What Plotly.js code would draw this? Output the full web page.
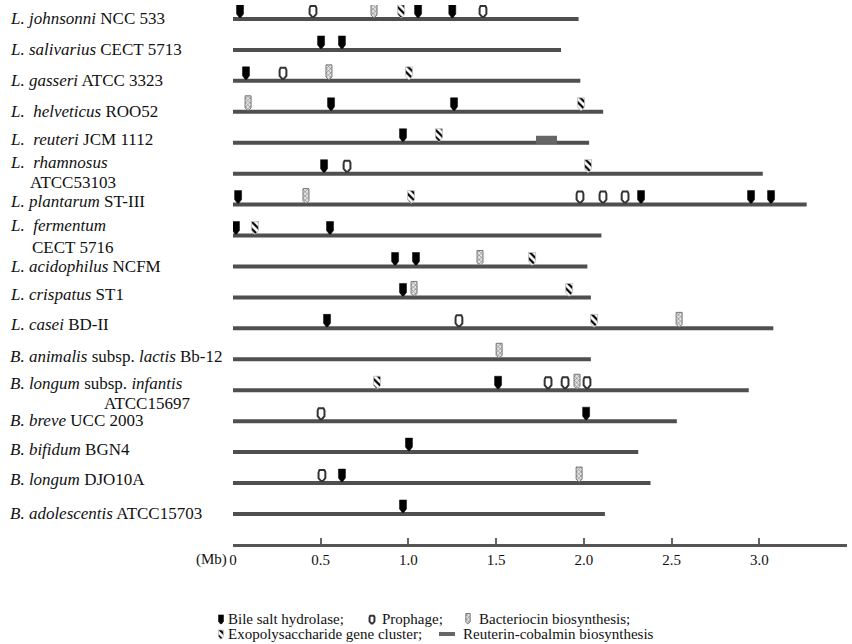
<!DOCTYPE html>
<html><head><meta charset="utf-8">
<script src="https://cdn.plot.ly/plotly-3.0.1.min.js"></script>
<style>html,body{margin:0;padding:0;background:#fff}#chart{width:852px;height:644px}</style>
</head><body><div id="chart"></div>
<script>
// ---------------- DATA ----------------
const strainLabels = [
  '<i>L. johnsonni</i> NCC 533',
  '<i>L. salivarius</i> CECT 5713',
  '<i>L. gasseri</i> ATCC 3323',
  '<i>L.  helveticus</i> ROO52',
  '<i>L.  reuteri</i> JCM 1112',
  '<i>L.  rhamnosus</i>',
  '<i>L. plantarum</i> ST-III',
  '<i>L.  fermentum</i>',
  '<i>L. acidophilus</i> NCFM',
  '<i>L. crispatus</i> ST1',
  '<i>L. casei</i> BD-II',
  '<i>B. animalis</i> subsp. <i>lactis</i> Bb-12',
  '<i>B. longum</i> subsp. <i>infantis</i>',
  '<i>B. breve</i> UCC 2003',
  '<i>B. bifidum</i> BGN4',
  '<i>B. longum</i> DJO10A',
  '<i>B. adolescentis</i> ATCC15703'
];
const strainLabels2 = ['', '', '', '', '', 'ATCC53103', '', 'CECT 5716', '', '', '', '', 'ATCC15697', '', '', '', ''];
const genomeMb = [1.97, 1.87, 1.98, 2.11, 2.03, 3.02, 3.27, 2.10, 2.02, 2.04, 3.08, 2.04, 2.94, 2.53, 2.31, 2.38, 2.12];

// Bile salt hydrolase
const bshRow = [0, 0, 0, 1, 1, 2, 3, 3, 4, 5, 6, 6, 6, 6, 7, 7, 8, 8, 9, 10, 12, 13, 14, 15, 16];
const bshMb  = [0.04, 1.055, 1.25, 0.502, 0.621, 0.074, 0.559, 1.26, 0.969, 0.519, 0.029, 2.326, 2.953, 3.067, 0.017, 0.553, 0.924, 1.043, 0.969, 0.536, 1.511, 2.013, 1.003, 0.621, 0.969];
// Prophage
const proRow = [0, 0, 2, 5, 6, 6, 6, 10, 12, 12, 12, 13, 15];
const proMb  = [0.456, 1.425, 0.285, 0.650, 1.978, 2.109, 2.235, 1.288, 1.796, 1.893, 2.018, 0.502, 0.507];
// Bacteriocin biosynthesis
const bacRow = [0, 2, 3, 6, 8, 9, 10, 11, 12, 15];
const bacMb  = [0.804, 0.547, 0.086, 0.416, 1.408, 1.032, 2.543, 1.517, 1.961, 1.973];
// Exopolysaccharide gene cluster
const epsRow = [0, 2, 3, 4, 5, 6, 7, 8, 9, 10, 12];
const epsMb  = [0.958, 1.003, 1.984, 1.174, 2.024, 1.015, 0.125, 1.705, 1.916, 2.058, 0.821];
// Reuterin-cobalmin biosynthesis (start, end)
const reuRow = [4];
const reuStart = [1.727];
const reuEnd = [1.847];

const tickVals = [0, 0.5, 1.0, 1.5, 2.0, 2.5, 3.0, 3.5];
const tickText = ['0', '0.5', '1.0', '1.5', '2.0', '2.5', '3.0', '3.5'];
const legendText = ['Bile salt hydrolase;', 'Prophage;', 'Bacteriocin biosynthesis;', 'Exopolysaccharide gene cluster;', 'Reuterin-cobalmin biosynthesis'];

// ---------------- LAYOUT GEOMETRY ----------------
const W = 852, H = 644;
const plotL = 233, plotR = 847, plotT = 5, plotB = 544;
const yTop = -0.4525, yBot = 16.97;
const DX = 3.5 / (plotR - plotL);
const DY = (yBot - yTop) / (plotB - plotT);
const SERIF = 'Liberation Serif';

// glyph outlines in pixel offsets from (marker x, line centre)
const G_BSH = [[-3.5,-14],[3.5,-14],[3.5,-5],[0.8,-1.5],[-0.8,-1.5],[-3.5,-5]];
const G_PRO = [[-3.4,-11],[-2.4,-13],[2.4,-13],[3.4,-11],[3.4,-5],[0.8,-2],[-0.8,-2],[-3.4,-5]];
const G_BAC = [[-3,-16],[3,-16],[3,-4],[0.6,-1.5],[-0.6,-1.5],[-3,-4]];
const G_EPS = [[-3.5,-14],[3.5,-14],[3.5,-5],[0.8,-1.5],[-0.8,-1.5],[-3.5,-5]];

const STY = {
  bsh: {fillcolor:'#000', line:{color:'#000', width:0.5}},
  pro: {fillcolor:'#fff', line:{color:'#333', width:2}},
  bac: {fillcolor:'#e4e4e4', fillpattern:{shape:'x', fgcolor:'#7a7a7a', bgcolor:'#e4e4e4', size:3, solidity:0.35}, line:{color:'#777', width:1}},
  eps: {fillcolor:'#fff', fillpattern:{shape:'\\', fgcolor:'#000', bgcolor:'#fff', size:5, solidity:0.45}, line:{color:'#bbb', width:0.8}}
};

function polys(cx, cy, pts, sx, sy) {
  const X = [], Y = [];
  for (let i = 0; i < cx.length; i++) {
    pts.forEach(p => { X.push(cx[i] + p[0]*sx); Y.push(cy[i] + p[1]*sy); });
    X.push(cx[i] + pts[0][0]*sx); Y.push(cy[i] + pts[0][1]*sy);
    X.push(null); Y.push(null);
  }
  return {X, Y};
}
function glyphTrace(cx, cy, pts, sty, sx, sy, xa, ya) {
  const p = polys(cx, cy, pts, sx, sy);
  return Object.assign({type:'scatter', mode:'lines', x:p.X, y:p.Y, fill:'toself',
    xaxis:xa, yaxis:ya, hoverinfo:'skip', showlegend:false}, sty);
}

const traces = [];
// genome lines
{
  const X = [], Y = [];
  genomeMb.forEach((L, r) => { X.push(-0.02, L, null); Y.push(r, r, null); });
  traces.push({type:'scatter', mode:'lines', x:X, y:Y, line:{color:'#4f4f4f', width:4}, hoverinfo:'skip', showlegend:false});
}
// reuterin bars
{
  const X = [], Y = [];
  reuRow.forEach((r, i) => {
    X.push(reuStart[i], reuEnd[i], reuEnd[i], reuStart[i], reuStart[i], null);
    Y.push(r - 7*DY, r - 7*DY, r + 1*DY, r + 1*DY, r - 7*DY, null);
  });
  traces.push({type:'scatter', mode:'lines', x:X, y:Y, fill:'toself', fillcolor:'#666', line:{color:'#666', width:0}, hoverinfo:'skip', showlegend:false});
}
traces.push(glyphTrace(bacMb, bacRow, G_BAC, STY.bac, DX, DY, 'x', 'y'));
traces.push(glyphTrace(epsMb, epsRow, G_EPS, STY.eps, DX, DY, 'x', 'y'));
traces.push(glyphTrace(proMb, proRow, G_PRO, STY.pro, DX, DY, 'x', 'y'));
traces.push(glyphTrace(bshMb, bshRow, G_BSH, STY.bsh, DX, DY, 'x', 'y'));

// legend glyphs on a pixel overlay axis
const lgY1 = 625, lgY2 = 640, lgS = 0.72;
const lgIcons = [
  {x:221, y:lgY1, g:G_BSH, s:STY.bsh},
  {x:372, y:lgY1, g:G_PRO, s:STY.pro},
  {x:468, y:lgY1, g:G_BAC, s:STY.bac},
  {x:221, y:lgY2, g:G_EPS, s:STY.eps}
];
lgIcons.forEach(ic => traces.push(glyphTrace([ic.x], [ic.y], ic.g, ic.s, lgS, lgS, 'x2', 'y2')));
traces.push({type:'scatter', mode:'lines', x:[439,439,455,455,439], y:[632,636,636,632,632], fill:'toself', fillcolor:'#666', line:{width:0, color:'#666'}, xaxis:'x2', yaxis:'y2', hoverinfo:'skip', showlegend:false});

// annotations
const ann = [];
const labelShift = {4:3, 6:3, 9:3, 10:4, 11:3, 13:1, 14:3, 15:4};
const twoLine = {5:{up:11, down:-9, x2:28}, 7:{up:10, down:-12, x2:30}, 12:{up:7, down:-13, x2:102}};
const LBL = 17;
strainLabels.forEach((t, r) => {
  const tl = twoLine[r];
  ann.push({xref:'paper', yref:'y', x:8/W, y:r, xanchor:'left', yanchor:'middle', showarrow:false,
    text:t, yshift: tl ? tl.up : (labelShift[r] || 0), font:{family:SERIF, size:LBL, color:'#111'}});
  if (strainLabels2[r]) {
    ann.push({xref:'paper', yref:'y', x:tl.x2/W, y:r, xanchor:'left', yanchor:'middle', showarrow:false,
      text:strainLabels2[r], yshift:tl.down, font:{family:SERIF, size:LBL, color:'#111'}});
  }
});
ann.push({xref:'paper', yref:'paper', x:229/W, y:1-559/H, xanchor:'right', yanchor:'middle', showarrow:false,
  text:'(Mb)', font:{family:SERIF, size:15, color:'#111'}});
const lgPos = [[226, 619], [380, 619], [477, 619], [226, 634], [461, 634]];
legendText.forEach((t, i) => ann.push({xref:'paper', yref:'paper', x:lgPos[i][0]/W, y:1-lgPos[i][1]/H,
  xanchor:'left', yanchor:'middle', showarrow:false, text:t, font:{family:SERIF, size:15, color:'#111'}}));

const layout = {
  width: W, height: H,
  margin: {l:0, r:0, t:0, b:0},
  paper_bgcolor:'#fff', plot_bgcolor:'rgba(0,0,0,0)',
  showlegend:false,
  font:{family:SERIF},
  xaxis: {domain:[plotL/W, plotR/W], range:[0, 3.5], showgrid:false, zeroline:false,
    showline:true, linecolor:'#555', linewidth:3, ticks:'inside', ticklen:6, tickwidth:2, tickcolor:'#666',
    tickvals:tickVals, ticktext:tickText, tickfont:{family:SERIF, size:15, color:'#111'}, fixedrange:true, anchor:'y'},
  yaxis: {domain:[1-plotB/H, 1-plotT/H], range:[yBot, yTop], visible:false, fixedrange:true, anchor:'x'},
  xaxis2: {domain:[0,1], range:[0, W], visible:false, fixedrange:true, anchor:'y2'},
  yaxis2: {domain:[0,1], range:[H, 0], visible:false, fixedrange:true, anchor:'x2'},
  annotations: ann
};
Plotly.newPlot('chart', traces, layout, {staticPlot:true, displayModeBar:false});
</script></body></html>
